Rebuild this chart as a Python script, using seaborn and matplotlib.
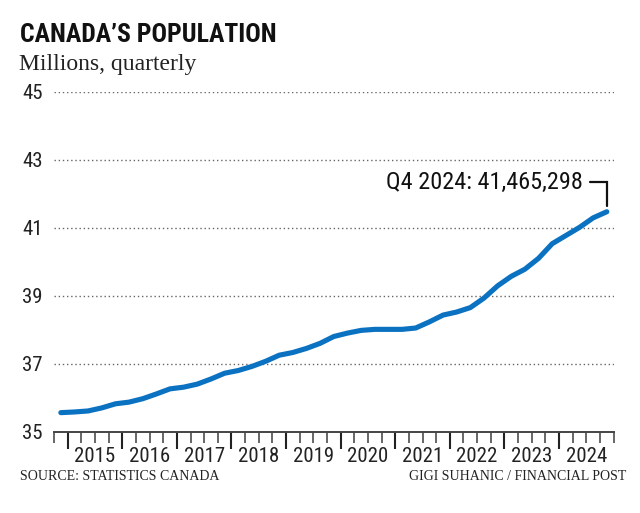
import matplotlib
matplotlib.use("Agg")
import matplotlib.pyplot as plt
import matplotlib.transforms as mtransforms
import seaborn as sns
import pandas as pd

# Poblacion trimestral de Canada (millones), Q4 2014 a Q4 2024
quarters = ["Q4 2014",
            "Q1 2015", "Q2 2015", "Q3 2015", "Q4 2015",
            "Q1 2016", "Q2 2016", "Q3 2016", "Q4 2016",
            "Q1 2017", "Q2 2017", "Q3 2017", "Q4 2017",
            "Q1 2018", "Q2 2018", "Q3 2018", "Q4 2018",
            "Q1 2019", "Q2 2019", "Q3 2019", "Q4 2019",
            "Q1 2020", "Q2 2020", "Q3 2020", "Q4 2020",
            "Q1 2021", "Q2 2021", "Q3 2021", "Q4 2021",
            "Q1 2022", "Q2 2022", "Q3 2022", "Q4 2022",
            "Q1 2023", "Q2 2023", "Q3 2023", "Q4 2023",
            "Q1 2024", "Q2 2024", "Q3 2024", "Q4 2024"]
population = [35.56,
              35.58, 35.61, 35.70, 35.82,
              35.87, 35.97, 36.11, 36.26,
              36.31, 36.40, 36.55, 36.72,
              36.80, 36.92, 37.07, 37.25,
              37.33, 37.45, 37.60, 37.80,
              37.90, 37.98, 38.01, 38.01,
              38.01, 38.05, 38.23, 38.43,
              38.52, 38.65, 38.93, 39.29,
              39.57, 39.78, 40.10, 40.53,
              40.77, 41.01, 41.29, 41.47]
year_labels = ["2015", "2016", "2017", "2018", "2019",
               "2020", "2021", "2022", "2023", "2024"]
y_ticks = [35, 37, 39, 41, 43, 45]
last_label = "Q4 2024: 41,465,298"

df = pd.DataFrame({"quarter": quarters, "pop": population})
df["pos"] = [i + 0.5 for i in range(len(df))]  # centro del trimestre

sns.set_style("white")
narrow = ["Liberation Sans Narrow", "Roboto Condensed", "DejaVu Sans"]
serif = ["Liberation Serif", "DejaVu Serif"]

fig = plt.figure(figsize=(6.4, 5.13), dpi=100)
ax = fig.add_axes([0.0844, 0.1585, 0.8744, 0.6627])

sns.lineplot(data=df, x="pos", y="pop", ax=ax, color="#0b72c2",
             linewidth=3.7, solid_capstyle="round")

n_q = len(df)
ax.set_xlim(0, n_q)
ax.set_ylim(35, 45)

# lineas de referencia punteadas
for v in y_ticks[1:]:
    ax.axhline(v, color="#666666", lw=1.0, ls=(0, (1, 2)), zorder=0)

ax.set_yticks(y_ticks)
ax.set_yticklabels([str(v) for v in y_ticks], family=narrow, fontsize=15,
                   color="#222222")
ax.tick_params(axis="y", length=0, pad=8)

# ticks: todos los trimestres como mayores (cortos), anios como menores (largos)
major = [1 + 4 * k for k in range(len(year_labels))]
quarter_edges = [i for i in range(n_q + 1)]
ax.set_xticks(quarter_edges)
ax.set_xticklabels([])
ax.set_xticks(major, minor=True)
ax.tick_params(axis="x", which="major", bottom=True, direction="out",
               length=8, width=1.3, color="#5a5a5a")
ax.tick_params(axis="x", which="minor", bottom=True, direction="out",
               length=12.5, width=1.5, color="#222222")
ax.xaxis.remove_overlapping_locs = False
ax.set_xlabel("")
ax.set_ylabel("")

trans = mtransforms.blended_transform_factory(ax.transData, ax.transAxes)
for k, lab in enumerate(year_labels):
    ax.text(major[k] + 2, -0.046, lab, transform=trans, ha="center",
            va="top", family=narrow, fontsize=15, color="#222222")

for s in ["top", "left", "right"]:
    ax.spines[s].set_visible(False)
ax.spines["bottom"].set_color("#444444")
ax.spines["bottom"].set_linewidth(1.4)

# anotacion del ultimo dato
lx = df["pos"].iloc[-1]
ly = df["pop"].iloc[-1]
ax.plot([lx - 1.25, lx, lx], [ly + 0.87, ly + 0.87, ly + 0.17],
        color="#111111", lw=1.6, solid_joinstyle="miter")
ax.text(lx - 1.75, ly + 0.87, last_label, ha="right", va="center",
        family=narrow, fontsize=17.5, color="#111111")

fig.text(0.031, 0.918, "CANADA\u2019S POPULATION", family=narrow,
         fontweight="bold", fontsize=18.5, color="#111111", va="baseline")
fig.text(0.030, 0.863, "Millions, quarterly", family=serif, fontsize=17,
         color="#222222", va="baseline")
fig.text(0.031, 0.064, "SOURCE: STATISTICS CANADA", family=serif,
         fontsize=10, color="#222222", va="baseline")
fig.text(0.979, 0.064, "GIGI SUHANIC / FINANCIAL POST", family=serif,
         fontsize=10, color="#222222", va="baseline", ha="right")

fig.savefig("out.png", dpi=100, facecolor="white")
